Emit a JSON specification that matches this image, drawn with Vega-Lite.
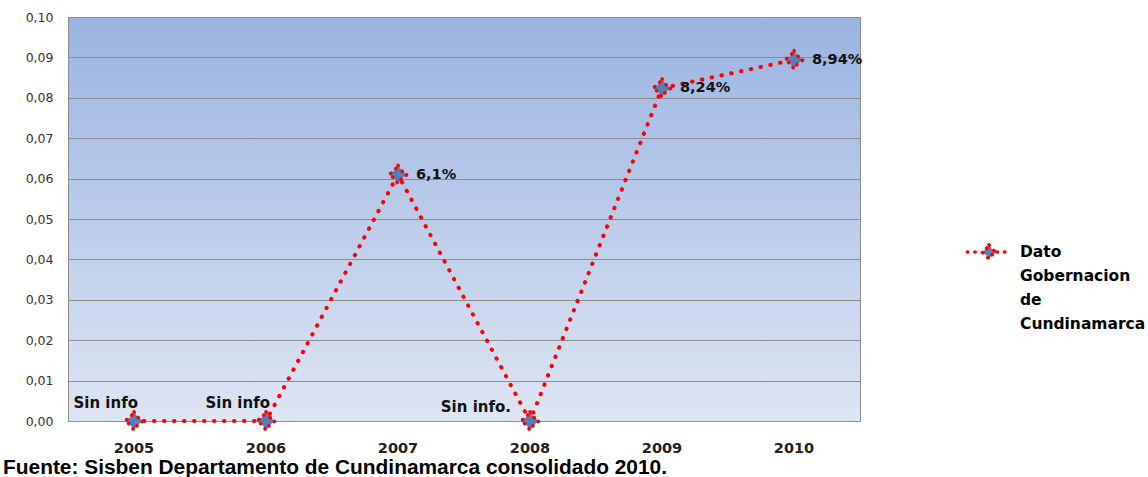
{
  "$schema": "https://vega.github.io/schema/vega-lite/v6.json",
  "width": 792,
  "height": 404,
  "autosize": {"type": "none"},
  "padding": {"left": 68, "top": 17, "right": 288, "bottom": 56},
  "background": "white",
  "title": {
    "text": "Fuente: Sisben Departamento de Cundinamarca consolidado 2010.",
    "orient": "bottom",
    "anchor": "start",
    "frame": "group",
    "dx": -65,
    "offset": 2,
    "font": "Liberation Sans",
    "fontSize": 20.9,
    "fontWeight": "bold",
    "color": "#000000"
  },
  "config": {
    "view": {
      "fill": {
        "gradient": "linear",
        "x1": 0, "y1": 0, "x2": 0, "y2": 1,
        "stops": [
          {"offset": 0, "color": "#9AB4E1"},
          {"offset": 1, "color": "#DEE5F3"}
        ]
      },
      "stroke": "#8C8C8C",
      "strokeWidth": 1
    },
    "axis": {
      "labelFont": "DejaVu Sans",
      "labelColor": "#333333",
      "domain": false,
      "ticks": false
    },
    "style": {"guide-label": {"lineHeight": 24}}
  },
  "data": {
    "values": [
      {"anio": "2005", "valor": 0, "etiqueta": "Sin info", "serie": "Dato Gobernacion de Cundinamarca"},
      {"anio": "2006", "valor": 0, "etiqueta": "Sin info", "serie": "Dato Gobernacion de Cundinamarca"},
      {"anio": "2007", "valor": 0.061, "etiqueta": "6,1%", "serie": "Dato Gobernacion de Cundinamarca"},
      {"anio": "2008", "valor": 0, "etiqueta": "Sin info.", "serie": "Dato Gobernacion de Cundinamarca"},
      {"anio": "2009", "valor": 0.0824, "etiqueta": "8,24%", "serie": "Dato Gobernacion de Cundinamarca"},
      {"anio": "2010", "valor": 0.0894, "etiqueta": "8,94%", "serie": "Dato Gobernacion de Cundinamarca"}
    ]
  },
  "encoding": {
    "x": {
      "field": "anio",
      "type": "ordinal",
      "scale": {"type": "band", "paddingInner": 0, "paddingOuter": 0},
      "axis": {
        "title": null,
        "labelAngle": 0,
        "labelFontWeight": "bold",
        "labelFontSize": 14.5,
        "labelColor": "#222222",
        "labelPadding": 20,
        "grid": false
      }
    },
    "y": {
      "field": "valor",
      "type": "quantitative",
      "scale": {"domain": [0, 0.1], "nice": false},
      "axis": {
        "title": null,
        "values": [0, 0.01, 0.02, 0.03, 0.04, 0.05, 0.06, 0.07, 0.08, 0.09, 0.1],
        "labelExpr": "replace(format(datum.value, '.2f'), '.', ',')",
        "labelFontSize": 12.5,
        "labelPadding": 15,
        "grid": true,
        "gridColor": "#8C8C8C",
        "gridWidth": 1,
        "gridOpacity": 1
      }
    }
  },
  "layer": [
    {
      "mark": {
        "type": "line",
        "strokeWidth": 4,
        "strokeDash": [0.5, 9.5],
        "strokeCap": "round"
      },
      "encoding": {
        "color": {
          "field": "serie",
          "type": "nominal",
          "scale": {"range": ["#FF0000"]},
          "legend": {
            "title": null,
            "orient": "none",
            "legendX": 912,
            "legendY": 226,
            "symbolType": "M-3,0L-1.1,0M1.1,0L3,0M0,-1L0.4,-0.4L1,0L0.4,0.4L0,1L-0.4,0.4L-1,0L-0.4,-0.4Z",
            "labelExpr": "['Dato', 'Gobernacion', 'de', 'Cundinamarca']",
            "labelFont": "DejaVu Sans",
            "labelFontSize": 15.5,
            "labelFontWeight": "bold",
            "labelColor": "#000000",
            "labelBaseline": "middle",
            "labelOffset": 22,
            "labelLimit": 250,
            "symbolSize": 210,
            "symbolFillColor": "#4F81BD",
            "symbolStrokeColor": "#FF0000",
            "symbolStrokeWidth": 3.5,
            "symbolDash": [0.5, 7],
            "encode": {
              "symbols": {
                "update": {"fill": {"value": "#4F81BD"}, "fillOpacity": {"value": 1}, "strokeCap": {"value": "round"}}
              },
              "labels": {
                "update": {"lineHeight": {"value": 24}}
              }
            }
          }
        }
      }
    },
    {
      "mark": {
        "type": "point",
        "filled": true,
        "size": 340,
        "fill": "#4F81BD",
        "fillOpacity": 1,
        "stroke": "#FF0000",
        "strokeWidth": 3.5,
        "strokeDash": [0.5, 6.5],
        "strokeCap": "round",
        "opacity": 1,
        "shape": "M0,-1L0.4,-0.4L1,0L0.4,0.4L0,1L-0.4,0.4L-1,0L-0.4,-0.4Z"
      }
    },
    {
      "transform": [{"filter": "datum.valor > 0"}],
      "mark": {
        "type": "text",
        "align": "left",
        "baseline": "middle",
        "dx": 18,
        "font": "DejaVu Sans",
        "fontSize": 14.5,
        "fontWeight": "bold",
        "color": "#111111"
      },
      "encoding": {"text": {"field": "etiqueta"}}
    },
    {
      "transform": [{"filter": "datum.anio == '2005' || datum.anio == '2006'"}],
      "mark": {
        "type": "text",
        "align": "right",
        "baseline": "middle",
        "dx": 4,
        "dy": -18,
        "font": "DejaVu Sans",
        "fontSize": 15,
        "fontWeight": "bold",
        "color": "#111111"
      },
      "encoding": {"text": {"field": "etiqueta"}}
    },
    {
      "transform": [{"filter": "datum.anio == '2008'"}],
      "mark": {
        "type": "text",
        "align": "right",
        "baseline": "middle",
        "dx": -19,
        "dy": -14,
        "font": "DejaVu Sans",
        "fontSize": 15,
        "fontWeight": "bold",
        "color": "#111111"
      },
      "encoding": {"text": {"field": "etiqueta"}}
    }
  ]
}
